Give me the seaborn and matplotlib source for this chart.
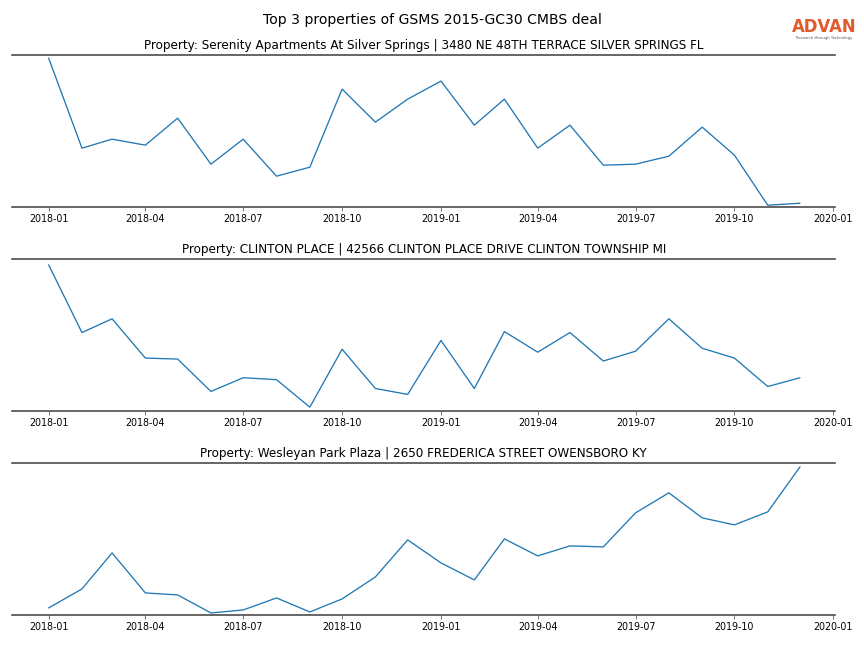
import seaborn as sns
import pandas as pd
import matplotlib.pyplot as plt
import matplotlib.dates as mdates

# monthly index, 2018-01 .. 2019-12
months = pd.date_range("2018-01-01", "2019-12-01", freq="MS")

# property titles
titles = [
    "Property: Serenity Apartments At Silver Springs | 3480 NE 48TH TERRACE SILVER SPRINGS FL",
    "Property: CLINTON PLACE | 42566 CLINTON PLACE DRIVE CLINTON TOWNSHIP MI",
    "Property: Wesleyan Park Plaza | 2650 FREDERICA STREET OWENSBORO KY",
]

# foot traffic (relative units)
serenity = [149, 59, 68, 62, 89, 43, 68, 31, 40, 118, 85, 108,
            126, 82, 108, 59, 82, 42, 43, 51, 80, 52, 2, 4]
clinton = [149, 80, 94, 54, 53, 20, 34, 32, 4, 63, 23, 17,
           72, 23, 81, 60, 80, 51, 61, 94, 64, 54, 25, 34]
wesleyan = [7, 26, 62, 22, 20, 2, 5, 17, 3, 16, 38, 75,
            52, 35, 76, 59, 69, 68, 102, 122, 97, 90, 103, 148]

series = [serenity, clinton, wesleyan]
ylims = [(0, 152), (0, 155), (0, 152)]


def main():
    sns.set_style("white")
    plt.rcParams["text.color"] = "black"
    plt.rcParams["xtick.color"] = "black"
    fig, axes = plt.subplots(3, 1, figsize=(12, 9), dpi=72)
    fig.subplots_adjust(left=0.014, right=0.967, top=0.915, bottom=0.051, hspace=0.34)

    for ax, title, vals, yl in zip(axes, titles, series, ylims):
        df = pd.DataFrame({"month": months, "visits": vals})
        sns.lineplot(data=df, x="month", y="visits", ax=ax, color="#1f77b4", linewidth=1.3)
        ax.set_title(title, fontsize=12, pad=6, color="black")
        ax.set_xlabel("")
        ax.set_ylabel("")
        ax.set_yticks([])
        ax.set_ylim(*yl)
        ax.set_xlim(pd.Timestamp("2017-11-28"), pd.Timestamp("2020-01-03"))
        ax.xaxis.set_major_locator(mdates.MonthLocator(bymonth=[1, 4, 7, 10]))
        ax.xaxis.set_major_formatter(mdates.DateFormatter("%Y-%m"))
        ax.tick_params(axis="x", labelsize=9.5, length=4, width=0.8, color="#555555",
                       labelcolor="black", direction="out", bottom=True, pad=3)
        for side in ["left", "right"]:
            ax.spines[side].set_visible(False)
        for side in ["top", "bottom"]:
            ax.spines[side].set_color("#444444")
            ax.spines[side].set_linewidth(1.6)

    fig.suptitle("Top 3 properties of GSMS 2015-GC30 CMBS deal", fontsize=14, y=0.98,
                 color="black")

    # logo
    fig.text(0.954, 0.958, "ADVAN", fontsize=16.5, color="#e05a2b", ha="center", va="center",
             fontweight="bold")
    fig.text(0.954, 0.941, "Research through Technology", fontsize=3.8, color="#555555",
             ha="center", va="center")

    fig.savefig("out.png", dpi=72)


main()
